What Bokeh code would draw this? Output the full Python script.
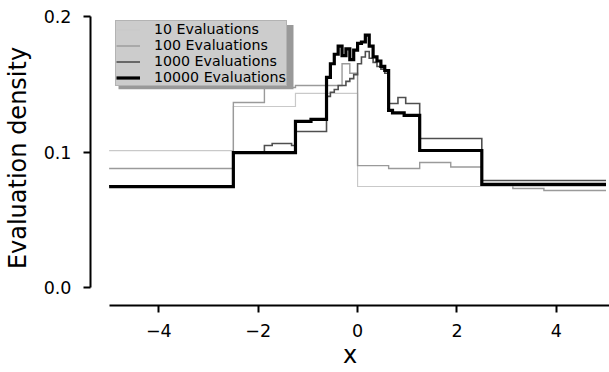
from bokeh.plotting import figure
from bokeh.models import (Range1d, FixedTicker, NumeralTickFormatter, Legend,
                          LegendItem, BoxAnnotation)
from bokeh.embed import file_html
from bokeh.resources import INLINE

# Piecewise-constant evaluation densities: bin edges and the density in each bin
edges_10 = [-5, -2.5, -1.25, 0, 5]
dens_10 = [0.101, 0.1335, 0.1431, 0.0746]

edges_100 = [-5, -2.5, -1.875, -1.25, -0.3125, -0.15625, 0, 0.625, 1.25,
             1.875, 2.5, 3.125, 3.75, 5]
dens_100 = [0.0878, 0.1365, 0.1475, 0.149, 0.165, 0.158, 0.0900, 0.0878,
            0.0923, 0.0890, 0.0761, 0.0731, 0.0717]

edges_1000 = [-5, -2.5, -1.875, -1.71875, -1.328125, -1.25, -0.625,
              -0.546875, -0.46875, -0.390625, -0.3125, -0.234375, -0.15625,
              -0.078125, 0, 0.078125, 0.15625, 0.234375, 0.3125, 0.390625,
              0.46875, 0.546875, 0.625, 0.8125, 0.96875, 1.25, 2.5, 5]
dens_1000 = [0.0752, 0.1000, 0.1048, 0.1063, 0.1048, 0.1151,
             0.141, 0.144, 0.146, 0.149, 0.149, 0.152, 0.154, 0.157,
             0.165, 0.170, 0.174, 0.169, 0.166, 0.163, 0.161, 0.158,
             0.1357, 0.1401, 0.1357, 0.1099, 0.0790]

edges_10000 = [-5, -2.5, -1.25, -0.9375, -0.625,
               -0.546875, -0.46875, -0.390625, -0.3125, -0.234375, -0.15625,
               -0.078125, 0, 0.078125, 0.15625, 0.234375, 0.3125, 0.390625,
               0.46875, 0.546875, 0.625, 0.703125, 0.9375, 1.25, 2.5, 5]
dens_10000 = [0.0745, 0.0996, 0.1225, 0.1240,
              0.155, 0.165, 0.172, 0.178, 0.171, 0.176, 0.168, 0.175,
              0.180, 0.181, 0.186, 0.178, 0.170, 0.167, 0.163, 0.160,
              0.1306, 0.1288, 0.1270, 0.1011, 0.0761]

series_labels = ["10 Evaluations", "100 Evaluations", "1000 Evaluations",
                 "10000 Evaluations"]
series_colors = ["#c9c9c9", "#9a9a9a", "#4f4f4f", "#000000"]
series_widths = [1.2, 1.4, 1.6, 3.2]

x_ticks = [-4, -2, 0, 2, 4]
x_tick_labels = ["\u22124", "\u22122", "0", "2", "4"]
y_ticks = [0.0, 0.1, 0.2]

FONT = "DejaVu Sans"

p = figure(width=609, height=372, output_backend="svg", toolbar_location=None,
           x_range=Range1d(-5.375, 5.07), y_range=Range1d(-0.01303, 0.2042),
           min_border_left=90, min_border_right=0, min_border_top=10,
           min_border_bottom=67)
p.outline_line_color = None
p.xgrid.visible = False
p.ygrid.visible = False
p.background_fill_color = "white"

renderers = []
all_edges = [edges_10, edges_100, edges_1000, edges_10000]
all_dens = [dens_10, dens_100, dens_1000, dens_10000]
for edges, dens, color, width in zip(all_edges, all_dens, series_colors,
                                     series_widths):
    ys = list(dens) + [dens[-1]]
    r = p.step(x=edges, y=ys, mode="after", line_color=color,
               line_width=width, line_join="miter")
    renderers.append(r)

# axes drawn as offset spines limited to the data span
for ax in (p.xaxis, p.yaxis):
    ax.axis_line_width = 2
    ax.axis_line_color = "black"
    ax.major_tick_line_width = 2
    ax.major_tick_line_color = "black"
    ax.major_tick_out = 7
    ax.major_tick_in = 0
    ax.minor_tick_line_color = None
    ax.major_label_text_font = FONT
    ax.major_label_text_font_size = "17.5px"
    ax.major_label_text_color = "black"
    ax.axis_label_text_font = FONT
    ax.axis_label_text_font_size = "24px"
    ax.axis_label_text_font_style = "normal"
    ax.axis_label_text_color = "black"

p.xaxis.ticker = FixedTicker(ticks=x_ticks)
p.xaxis.major_label_overrides = dict(zip(x_ticks, x_tick_labels))
p.xaxis.bounds = (-5, 5.07)
p.xaxis.axis_label = "x"
p.xaxis.major_label_standoff = 11
p.xaxis.axis_label_standoff = 1
p.xaxis.axis_label_text_baseline = "middle"

p.yaxis.ticker = FixedTicker(ticks=y_ticks)
p.yaxis.formatter = NumeralTickFormatter(format="0.0")
p.yaxis.bounds = (0, 0.2)
p.yaxis.axis_label = "Evaluation density"
p.yaxis.major_label_standoff = 12
p.yaxis.axis_label_standoff = 9

# legend drop shadow
shadow = BoxAnnotation(left=118, right=293, top=24.5, bottom=88.7,
                       left_units="canvas", right_units="canvas",
                       top_units="canvas", bottom_units="canvas",
                       fill_color="#999999", fill_alpha=1.0, line_color=None)
p.add_layout(shadow)

legend = Legend(items=[LegendItem(label=lab, renderers=[r])
                       for lab, r in zip(series_labels, renderers)],
                location=(25, 219), orientation="vertical",
                background_fill_color="#cccccc", background_fill_alpha=1.0,
                border_line_color="#999999", border_line_width=1,
                label_text_font=FONT, label_text_font_size="14.2px",
                label_text_color="black", padding=0, spacing=-3, margin=0,
                glyph_width=24, glyph_height=15, label_height=15,
                label_standoff=14)
p.add_layout(legend)

open("out.html", "w").write(file_html(p, INLINE))
